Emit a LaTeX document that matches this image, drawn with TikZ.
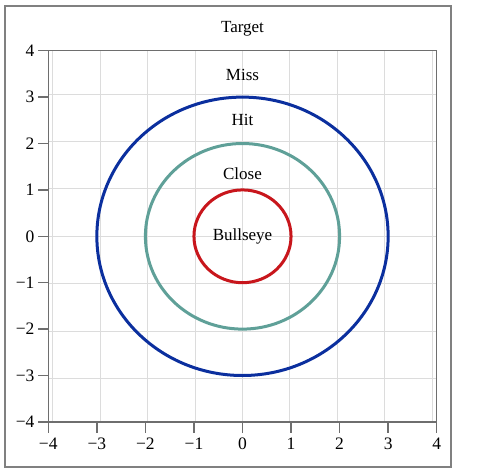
\documentclass[tikz,border=0pt]{standalone}
\usepackage{fontspec}
\setmainfont{Liberation Serif}
\definecolor{ringblue}{HTML}{0B2F9E}
\definecolor{ringteal}{HTML}{5FA098}
\definecolor{ringred}{HTML}{C8161C}
\definecolor{gridgray}{HTML}{DCDCDC}
\definecolor{axisgray}{HTML}{6E6E6E}
\definecolor{framegray}{HTML}{808080}
\begin{document}
\begin{tikzpicture}[x=29.13pt,y=27.84pt,
  ring/.style={line width=1.8pt},
  ticklab/.style={font=\fontsize{10.5}{12}\selectfont, inner sep=0pt},
  lab/.style={font=\fontsize{10.2}{12}\selectfont, inner sep=1pt}]
\useasboundingbox (-4.995,-5.058) rectangle (5.304,5.093);
\draw[framegray, line width=1.3pt] (-4.892,-4.972) rectangle (4.295,4.963);
% grid
\draw[gridgray, line width=0.6pt] (-4,-4) grid (4,4);
% axis box
\draw[axisgray, line width=0.8pt] (-4,-4) rectangle (4,4);
% ticks and labels
\foreach \v/\t in {-4/−4,-3/−3,-2/−2,-1/−1,0/0,1/1,2/2,3/3,4/4}{
  \draw[axisgray, line width=0.8pt] (\v,-4) -- ++(0,-0.23);
  \node[ticklab] (xl\v) at (\v,-4.47) {\t};
  \draw[axisgray, line width=0.8pt] (-4,\v) -- ++(-0.21,0);
  \node[ticklab, anchor=east] (yl\v) at (-4.28,\v) {\t};
}
% rings
\draw[ring, ringblue] (0,0) ellipse [x radius=3, y radius=3];
\draw[ring, ringteal] (0,0) ellipse [x radius=2, y radius=2];
\draw[ring, ringred] (0,0) ellipse [x radius=1, y radius=1];
% labels
\node[lab] (title) at (0,4.48) {Target};
\node[lab] (miss) at (0,3.48) {Miss};
\node[lab] (hit) at (0,2.5) {Hit};
\node[lab] (close) at (0,1.36) {Close};
\node[lab] (bull) at (0,0) {Bullseye};
\end{tikzpicture}
\end{document}
